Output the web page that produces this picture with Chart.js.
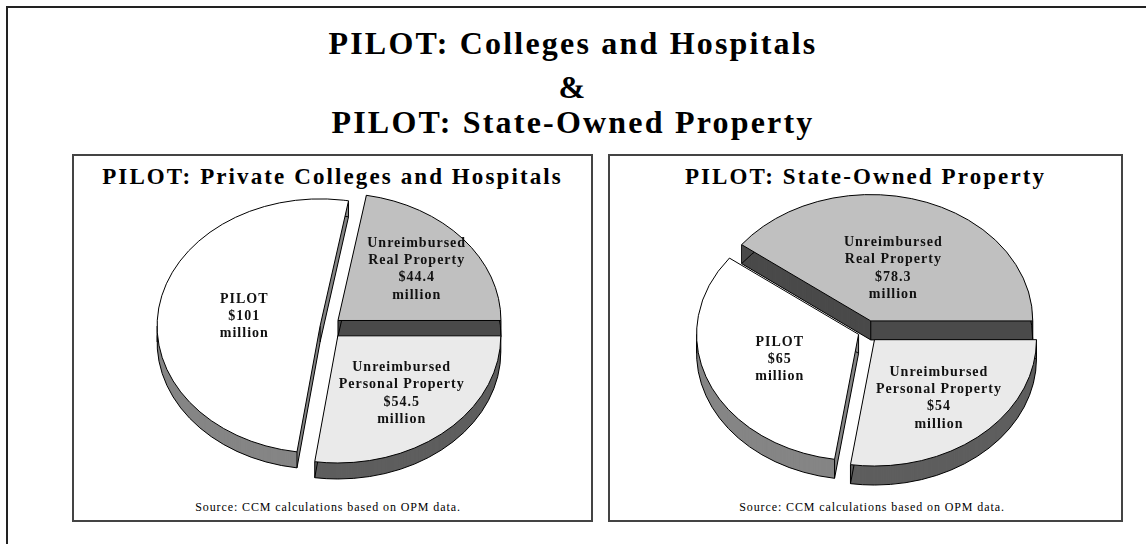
<!DOCTYPE html>
<html>
<head>
<meta charset="utf-8">
<script src="https://cdn.jsdelivr.net/npm/chart.js@4.4.1/dist/chart.umd.min.js"></script>
<style>
  html, body { margin: 0; padding: 0; background: #fff; }
  body { width: 1146px; height: 544px; position: relative; overflow: hidden; font-family: "Liberation Serif", "Times New Roman", serif; color: #000; }
  #frame { position: absolute; left: 6px; top: 6px; width: 1150px; height: 550px; border-left: 2px solid #222; border-top: 2px solid #222; }
  .mt { position: absolute; left: 0; width: 1146px; text-align: center; font-weight: bold; font-size: 32px; letter-spacing: 2.2px; line-height: 32px; white-space: nowrap; }
  .panel { position: absolute; top: 154px; height: 364px; border: 2px solid #444; }
  .pt { position: absolute; left: 0; right: 0; top: 9px; text-align: center; font-weight: bold; font-size: 23px; letter-spacing: 2.1px; line-height: 24px; white-space: nowrap; }
  .src { position: absolute; text-align: center; font-size: 12px; letter-spacing: 0.9px; line-height: 14px; white-space: nowrap; }
  canvas { position: absolute; }
</style>
</head>
<body>
<div id="frame"></div>
<div class="mt" style="top:27px">PILOT: Colleges and Hospitals</div>
<div class="mt" style="top:71px">&amp;</div>
<div class="mt" style="top:106px">PILOT: State-Owned Property</div>

<div class="panel" style="left:72px; width:517px;">
  <div class="pt">PILOT: Private Colleges and Hospitals</div>
</div>
<div class="panel" style="left:608px; width:511px;">
  <div class="pt">PILOT: State-Owned Property</div>
</div>
<div class="src" style="left:74px; width:508px; top:500px;">Source: CCM calculations based on OPM data.</div>
<div class="src" style="left:610px; width:524px; top:500px;">Source: CCM calculations based on OPM data.</div>

<canvas id="c1" width="517" height="362" style="left:74px; top:156px;"></canvas>
<canvas id="c2" width="511" height="362" style="left:610px; top:156px;"></canvas>

<script>
// ---- data ----
const categories = ['Unreimbursed Real Property', 'Unreimbursed Personal Property', 'PILOT'];
const labelLines = [['Unreimbursed', 'Real Property'], ['Unreimbursed', 'Personal Property'], ['PILOT']];
const collegesValues = [44.4, 54.5, 101];     // $ million
const stateOwnedValues = [78.3, 54, 65];      // $ million
const unitLabel = 'million';

// ---- styles ----
const topColors = ['#c0c0c0', '#eaeaea', '#ffffff'];
const sideColors = ['#4a4a4a', '#5e5e5e', '#858585'];

const pie3d = {
  id: 'pie3d',
  beforeDatasetsDraw(chart, args, o) {
    const ctx = chart.ctx;
    const arcs = chart.getDatasetMeta(0).data;
    const tilt = o.tilt, depth = o.depth;
    const cx = arcs[0].x, cy = arcs[0].y;
    const geo = arcs.map(a => {
      const mid = (a.startAngle + a.endAngle) / 2;
      const off = a.options.offset || 0;
      return { a, s: a.startAngle, e: a.endAngle, r: a.outerRadius,
               ox: cx + Math.cos(mid) * off, oy: cy + Math.sin(mid) * off };
    });
    const slicePath = (g, d) => {
      ctx.save();
      ctx.translate(0, cy + d); ctx.scale(1, tilt); ctx.translate(0, -cy);
      ctx.beginPath();
      ctx.moveTo(g.ox, g.oy);
      ctx.arc(g.ox, g.oy, g.r, g.s, g.e);
      ctx.closePath();
      ctx.restore();
    };
    const scr = (x, y) => [x, cy + (y - cy) * tilt];
    ctx.save();
    ctx.lineJoin = 'round';
    for (let d = depth; d >= 1; d--) {
      geo.forEach((g, i) => { slicePath(g, d); ctx.fillStyle = o.sideColors[i]; ctx.fill(); });
    }
    ctx.strokeStyle = '#000'; ctx.lineWidth = 1;
    geo.forEach(g => { slicePath(g, depth); ctx.stroke(); });
    geo.forEach(g => {
      const pts = [[g.ox, g.oy]];
      [g.s, g.e].forEach(t => pts.push([g.ox + g.r * Math.cos(t), g.oy + g.r * Math.sin(t)]));
      for (let k = -2; k <= 5; k++) {
        const t = k * Math.PI;
        if (t > g.s && t < g.e) pts.push([g.ox + g.r * Math.cos(t), g.oy + g.r * Math.sin(t)]);
      }
      pts.forEach(p => {
        const [X, Y] = scr(p[0], p[1]);
        ctx.beginPath(); ctx.moveTo(X, Y); ctx.lineTo(X, Y + depth); ctx.stroke();
      });
    });
    geo.forEach(g => {
      slicePath(g, 0);
      ctx.fillStyle = g.a.options.backgroundColor; ctx.fill();
      ctx.stroke();
    });
    ctx.restore();
    return false;
  },
  afterDraw(chart, args, o) {
    const ctx = chart.ctx;
    const arcs = chart.getDatasetMeta(0).data;
    const data = chart.data.datasets[0].data;
    const cx = arcs[0].x, cy = arcs[0].y;
    ctx.save();
    ctx.font = 'bold 14px "Liberation Serif"';
    if ('letterSpacing' in ctx) ctx.letterSpacing = '1px';
    ctx.textAlign = 'center';
    ctx.textBaseline = 'middle';
    ctx.fillStyle = '#111';
    arcs.forEach((a, i) => {
      const mid = (a.startAngle + a.endAngle) / 2;
      const f = o.labelRadius[i];
      const x = cx + Math.cos(mid) * f * a.outerRadius;
      const y = cy + Math.sin(mid) * f * a.outerRadius * o.tilt;
      const lines = [...labelLines[i], '$' + data[i], unitLabel];
      lines.forEach((t, j) => ctx.fillText(t, x, y + (j - (lines.length - 1) / 2) * 17.3));
    });
    ctx.restore();
  }
};

function makePie(id, values, opts) {
  const total = values.reduce((a, b) => a + b, 0);
  return new Chart(document.getElementById(id), {
    type: 'pie',
    data: {
      labels: categories,
      datasets: [{
        data: values,
        backgroundColor: topColors,
        borderColor: '#000',
        borderWidth: 1,
        offset: opts.offset
      }]
    },
    options: {
      responsive: false,
      animation: false,
      events: [],
      rotation: 90 - 360 * values[0] / total,
      radius: opts.radius,
      layout: { padding: opts.padding },
      plugins: {
        legend: { display: false },
        tooltip: { enabled: false },
        title: { display: false },
        pie3d: { tilt: 0.78, depth: opts.depth, sideColors, labelRadius: opts.labelRadius }
      }
    },
    plugins: [pie3d]
  });
}

makePie('c1', collegesValues, {
  offset: [13, 15, 8], radius: 163, depth: 16,
  padding: { left: 0, right: 9, top: 0, bottom: 20 },
  labelRadius: [0.71, 0.69, 0.52]
});
makePie('c2', stateOwnedValues, {
  offset: [15, 13, 8], radius: 162, depth: 19,
  padding: { left: 1, right: 0, top: 0, bottom: 10 },
  labelRadius: [0.53, 0.69, 0.575]
});
</script>
</body>
</html>
